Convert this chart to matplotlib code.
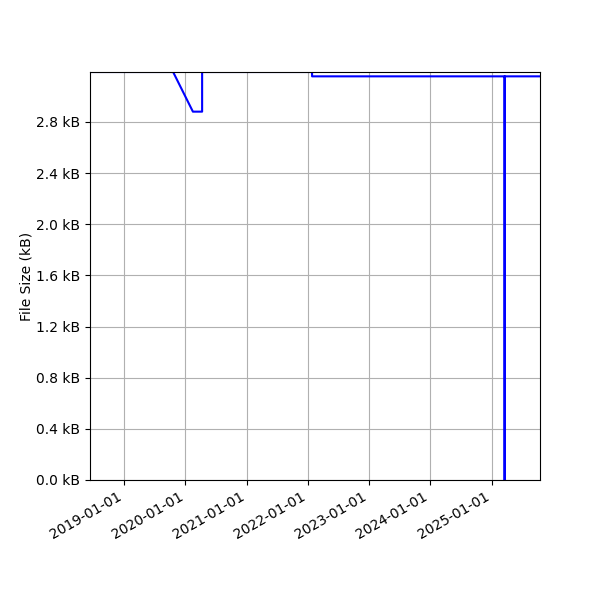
import matplotlib
matplotlib.use('Agg')
import matplotlib.pyplot as plt
import matplotlib.dates as mdates
import matplotlib.ticker as ticker
import numpy as np
from datetime import datetime

# File size history (kB)
dates = ['2018-06-11', '2019-10-20', '2020-02-15', '2020-04-10', '2020-04-10',
         '2022-01-26', '2022-01-26', '2025-03-20', '2025-03-20', '2025-03-20',
         '2025-10-17']
sizes = [3.19, 3.19, 2.88, 2.88, 3.19,
         3.19, 3.156, 3.156, 0.0, 3.156,
         3.156]

x = [datetime.strptime(d, '%Y-%m-%d') for d in dates]

fig, ax = plt.subplots(figsize=(6, 6), dpi=100)
ax.plot(x, sizes, color='blue', linewidth=1.5)
ax.set_xlim(x[0], x[-1])
ax.set_ylim(0, max(sizes))
ax.set_ylabel('File Size (kB)', labelpad=2)
ax.yaxis.set_major_locator(ticker.MultipleLocator(0.4))
ax.yaxis.set_major_formatter(ticker.FuncFormatter(lambda v, p: '%.1f kB' % v))
ax.xaxis.set_major_locator(mdates.YearLocator())
ax.xaxis.set_major_formatter(mdates.DateFormatter('%Y-%m-%d'))
ax.grid(True)
fig.autofmt_xdate()
fig.subplots_adjust(left=0.15, right=0.9, top=0.88, bottom=0.2)
fig.savefig('out.png')
